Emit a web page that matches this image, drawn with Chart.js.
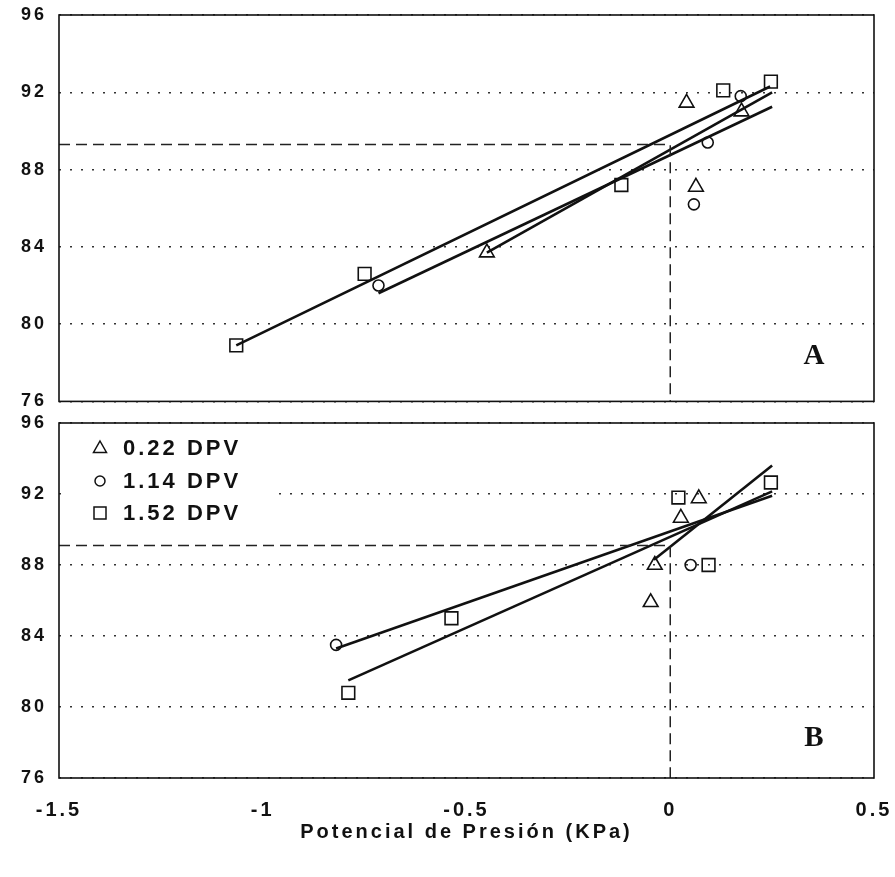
<!DOCTYPE html>
<html lang="es">
<head>
<meta charset="utf-8">
<title>Potencial de Presión</title>
<script src="https://cdn.jsdelivr.net/npm/chart.js@4.4.1/dist/chart.umd.min.js"></script>
<style>
  html, body { margin: 0; padding: 0; background: #fff; }
  #wrap { position: relative; width: 895px; height: 877px; }
  #panelA { position: absolute; left: 0; top: 0; }
  #panelB { position: absolute; left: 0; top: 405px; }
</style>
</head>
<body>
<div id="wrap">
  <canvas id="panelA" width="895" height="412"></canvas>
  <canvas id="panelB" width="895" height="472"></canvas>
</div>
<script>
// Ejes
const xTicks = [-1.5, -1, -0.5, 0, 0.5];
const xLabels = ["-1.5", "-1", "-0.5", "0", "0.5"];
const yTicks = [76, 80, 84, 88, 92, 96];
const series = ["0.22 DPV", "1.14 DPV", "1.52 DPV"];

// Panel A: puntos [x, y]
const triA = [[-0.45, 83.7], [0.04, 91.45], [0.063, 87.1], [0.175, 91.0]];
const cirA = [[-0.716, 82.0], [0.058, 86.2], [0.092, 89.4], [0.173, 91.8]];
const sqA = [[-1.065, 78.9], [-0.75, 82.6], [-0.12, 87.2], [0.13, 92.1], [0.247, 92.55]];
// Panel A: rectas de regresión (extremos)
const fitTriA = [[-0.45, 83.7], [0.25, 92.0]];
const fitCirA = [[-0.716, 81.6], [0.25, 91.25]];
const fitSqA = [[-1.065, 78.9], [0.245, 92.3]];
const refA = 89.3; // valor a potencial 0

// Panel B
const triB = [[-0.048, 85.9], [-0.038, 88.0], [0.026, 90.65], [0.07, 91.75]];
const cirB = [[-0.82, 83.5], [0.05, 88.0]];
const sqB = [[-0.79, 80.8], [-0.537, 85.0], [0.02, 91.8], [0.094, 88.0], [0.247, 92.65]];
const fitTriB = [[-0.04, 88.3], [0.25, 93.6]];
const fitCirB = [[-0.82, 83.3], [0.25, 91.9]];
const fitSqB = [[-0.79, 81.5], [0.25, 92.15]];
const refB = 89.1;

const ink = "#111";
const fuente = '"Liberation Sans", Arial, sans-serif';
const estilos = ["triangle", "circle", "rect"];

Chart.defaults.font.family = fuente;
Chart.defaults.color = ink;

function pts(arr) {
    return arr.map(p => ({ x: p[0], y: p[1] }));
}

function marcas(data, estilo, radio) {
    return {
        data: pts(data),
        showLine: false,
        pointStyle: estilo,
        pointRadius: radio,
        pointHoverRadius: radio,
        borderColor: ink,
        backgroundColor: "rgba(0,0,0,0)",
        pointBorderWidth: 1.6,
    };
}

function recta(data) {
    return { data: pts(data), showLine: true, borderColor: ink, borderWidth: 2.6, pointRadius: 0 };
}

// línea discontinua: horizontal hasta x = 0 y luego vertical hasta abajo
function referencia(y0) {
    return {
        data: [{ x: xTicks[0], y: y0 }, { x: 0, y: y0 }, { x: 0, y: yTicks[0] }],
        showLine: true,
        borderColor: "#222",
        borderWidth: 1.5,
        borderDash: [11, 6],
        pointRadius: 0,
    };
}

// marco y letra del panel
const marco = {
    id: "marco",
    beforeDraw(chart) {
        chart.ctx.letterSpacing = "3px";
    },
    afterDatasetsDraw(chart, args, opts) {
        const { ctx, chartArea: a } = chart;
        ctx.save();
        ctx.letterSpacing = "0px";
        ctx.strokeStyle = ink;
        ctx.lineWidth = 1.6;
        ctx.strokeRect(a.left, a.top, a.right - a.left, a.bottom - a.top);
        ctx.font = 'bold 29px "Liberation Serif", serif';
        ctx.fillStyle = ink;
        ctx.textAlign = "center";
        ctx.textBaseline = "middle";
        ctx.fillText(opts.letra, a.right - 60, a.bottom - opts.dy);
        ctx.restore();
    },
};

// leyenda dentro del panel B
const leyenda = {
    id: "leyenda",
    afterDatasetsDraw(chart, args, opts) {
        if (!opts.mostrar) return;
        const { ctx, chartArea: a } = chart;
        ctx.save();
        ctx.fillStyle = "#fff";
        ctx.fillRect(a.left + 2, a.top + 6, 216, 100);
        ctx.strokeStyle = ink;
        ctx.fillStyle = ink;
        ctx.lineWidth = 1.5;
        ctx.font = "bold 22px " + fuente;
        ctx.letterSpacing = "3px";
        ctx.textBaseline = "middle";
        const filas = [25, 58, 90];
        series.forEach((txt, i) => {
            const x = 100, y = a.top + filas[i];
            ctx.beginPath();
            if (estilos[i] === "triangle") {
                ctx.moveTo(x, y - 7);
                ctx.lineTo(x + 6.5, y + 4.5);
                ctx.lineTo(x - 6.5, y + 4.5);
                ctx.closePath();
            } else if (estilos[i] === "circle") {
                ctx.arc(x, y, 5, 0, Math.PI * 2);
            } else {
                ctx.rect(x - 6, y - 6, 12, 12);
            }
            ctx.stroke();
            ctx.fillText(txt, 123, y + 1);
        });
        ctx.restore();
    },
};

function escalas(conEjeX) {
    const negrita = size => ({ family: fuente, size: size, weight: "bold" });
    return {
        x: {
            type: "linear",
            min: xTicks[0],
            max: xTicks[xTicks.length - 1],
            display: conEjeX,
            afterBuildTicks: s => { s.ticks = xTicks.map(v => ({ value: v })); },
            afterFit: s => { s.height = conEjeX ? 99 : 0; s.paddingLeft = 0; s.paddingRight = 0; },
            grid: { display: false, drawTicks: false },
            border: { display: false },
            ticks: {
                padding: 20,
                color: ink,
                font: negrita(20),
                callback: (v, i) => xLabels[i],
            },
            title: {
                display: true,
                text: "Potencial de Presión (KPa)",
                color: ink,
                font: negrita(20),
                padding: { top: 0, bottom: 33 },
            },
        },
        y: {
            min: yTicks[0],
            max: yTicks[yTicks.length - 1],
            afterBuildTicks: s => { s.ticks = yTicks.map(v => ({ value: v })); },
            afterFit: s => { s.width = 59; s.paddingTop = 0; s.paddingBottom = 0; },
            grid: { color: "#333", lineWidth: 1.5, drawTicks: false },
            border: { display: false, dash: [2, 9] },
            ticks: { padding: 12, color: ink, font: negrita(18) },
        },
    };
}

function panel(id, datos, conEjeX, padding, letra, dy) {
    const [tri, cir, sq, fTri, fCir, fSq, ref] = datos;
    return new Chart(document.getElementById(id), {
        type: "scatter",
        data: {
            datasets: [
                referencia(ref),
                recta(fSq),
                recta(fCir),
                recta(fTri),
                marcas(tri, "triangle", 8.5),
                marcas(cir, "circle", 5.5),
                marcas(sq, "rect", 9),
            ],
        },
        options: {
            responsive: false,
            animation: false,
            devicePixelRatio: 1,
            layout: { padding: padding },
            scales: escalas(conEjeX),
            plugins: {
                legend: { display: false },
                tooltip: { enabled: false },
                marco: { letra: letra, dy: dy },
                leyenda: { mostrar: conEjeX },
            },
        },
        plugins: [leyenda, marco],
    });
}

panel("panelA", [triA, cirA, sqA, fitTriA, fitCirA, fitSqA, refA], false,
      { top: 15, right: 21, bottom: 10, left: 0 }, "A", 45);
panel("panelB", [triB, cirB, sqB, fitTriB, fitCirB, fitSqB, refB], true,
      { top: 18, right: 21, bottom: 0, left: 0 }, "B", 39);
</script>
</body>
</html>
